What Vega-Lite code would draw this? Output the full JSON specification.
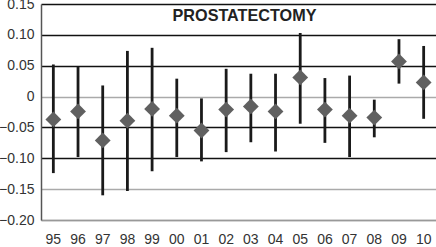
{
  "$schema": "https://vega.github.io/schema/vega-lite/v6.json",
  "width": 395,
  "height": 216,
  "autosize": "none",
  "padding": {"left": 41, "top": 4, "right": 0, "bottom": 27},
  "background": "white",
  "title": {
    "text": "PROSTATECTOMY",
    "font": "Liberation Sans",
    "fontSize": 16.2,
    "fontWeight": "bold",
    "color": "#222",
    "anchor": "middle",
    "dx": 6,
    "offset": -27
  },
  "data": {
    "values": [
      {"year": "95", "est": -0.037, "lo": -0.124, "hi": 0.052},
      {"year": "96", "est": -0.024, "lo": -0.098, "hi": 0.048},
      {"year": "97", "est": -0.071, "lo": -0.160, "hi": 0.018},
      {"year": "98", "est": -0.039, "lo": -0.153, "hi": 0.074},
      {"year": "99", "est": -0.020, "lo": -0.121, "hi": 0.079},
      {"year": "00", "est": -0.031, "lo": -0.098, "hi": 0.029},
      {"year": "01", "est": -0.055, "lo": -0.105, "hi": -0.003},
      {"year": "02", "est": -0.021, "lo": -0.090, "hi": 0.045},
      {"year": "03", "est": -0.016, "lo": -0.074, "hi": 0.037},
      {"year": "04", "est": -0.024, "lo": -0.089, "hi": 0.037},
      {"year": "05", "est": 0.031, "lo": -0.044, "hi": 0.103},
      {"year": "06", "est": -0.021, "lo": -0.075, "hi": 0.030},
      {"year": "07", "est": -0.031, "lo": -0.098, "hi": 0.034},
      {"year": "08", "est": -0.034, "lo": -0.066, "hi": -0.005},
      {"year": "09", "est": 0.057, "lo": 0.021, "hi": 0.093},
      {"year": "10", "est": 0.023, "lo": -0.036, "hi": 0.082}
    ]
  },
  "encoding": {
    "x": {
      "field": "year",
      "type": "ordinal",
      "sort": null,
      "scale": {"paddingInner": 0, "paddingOuter": 0},
      "axis": {
        "title": null,
        "ticks": false,
        "tickSize": 0,
        "labelPadding": 12,
        "labelAngle": 0,
        "labelFont": "Liberation Sans",
        "labelFontSize": 14,
        "labelColor": "#333",
        "domainColor": "#999",
        "domainWidth": 1.5,
        "grid": false
      }
    },
    "y": {
      "field": "est",
      "type": "quantitative",
      "scale": {"domain": [-0.2, 0.15], "nice": false, "zero": false},
      "axis": {
        "title": null,
        "values": [-0.2, -0.15, -0.1, -0.05, 0, 0.05, 0.1, 0.15],
        "labelExpr": "datum.value == 0 ? '0' : replace(format(datum.value, '.2f'), '-', '\u2212')",
        "labelOverlap": false,
        "labelFlush": false,
        "ticks": false,
        "tickSize": 0,
        "labelPadding": 7,
        "labelFont": "Liberation Sans",
        "labelFontSize": 14,
        "labelColor": "#333",
        "domainColor": "#555",
        "domainWidth": 1.5,
        "grid": true,
        "gridWidth": 1.3,
        "gridColor": {
          "condition": {"test": "datum.value == 0 || datum.value == -0.15 || datum.value == -0.2", "value": "#aaaaaa"},
          "value": "#111111"
        }
      }
    }
  },
  "layer": [
    {
      "mark": {"type": "rule", "color": "#1a1a1a", "strokeWidth": 2.8},
      "encoding": {
        "y": {"field": "lo", "type": "quantitative"},
        "y2": {"field": "hi"}
      }
    },
    {
      "mark": {"type": "point", "shape": "diamond", "filled": true, "color": "#606060", "opacity": 1, "size": 250}
    }
  ],
  "config": {
    "view": {"stroke": null}
  }
}
